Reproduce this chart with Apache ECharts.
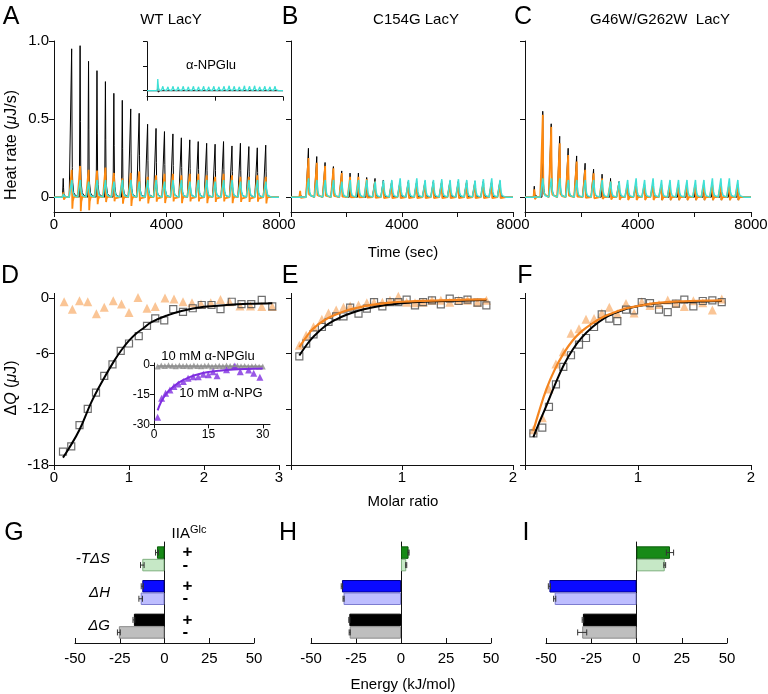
<!DOCTYPE html>
<html><head><meta charset="utf-8">
<script src="https://cdn.jsdelivr.net/npm/echarts@6/dist/echarts.min.js"></script>
<style>html,body{margin:0;padding:0;background:#fff}#c{width:768px;height:694px}</style>
</head><body><div id="c"></div>
<script>
// ---------- DATA ----------
const injTimes = [320,620,920,1220,1520,1820,2120,2420,2720,3020,3320,3620,3920,4220,4520,4820,5120,5420,5720,6020,6320,6620,6920,7220,7520];
const timeTicks = [0,2000,4000,6000,8000];
// Panel A (WT LacY) peak heights, µJ/s
const wtBlack = [0.12,0.95,0.97,0.87,0.81,0.74,0.665,0.62,0.565,0.537,0.467,0.44,0.42,0.405,0.38,0.367,0.356,0.345,0.339,0.356,0.328,0.345,0.324,0.316,0.333];
const wtOrange = [0.03,0.175,0.2,0.175,0.17,0.19,0.155,0.12,0.155,0.165,0.13,0.14,0.15,0.15,0.14,0.15,0.15,0.14,0.13,0.15,0.14,0.13,0.13,0.14,0.13];
const wtOrangeDip = [-0.02,-0.1,-0.12,-0.11,-0.07,-0.06,-0.05,-0.06,-0.08,-0.05,-0.06,-0.05,-0.06,-0.05,-0.06,-0.05,-0.05,-0.06,-0.05,-0.05,-0.06,-0.05,-0.05,-0.05,-0.06];
const wtCyan = [0.02,0.11,0.11,0.1,0.11,0.11,0.1,0.11,0.11,0.1,0.11,0.11,0.1,0.11,0.11,0.1,0.11,0.11,0.1,0.11,0.11,0.1,0.11,0.11,0.1];
// Inset of A (alpha-NPGlu)
const insBlack = [0.02,0.06,0.04,0.04,0.04,0.04,0.04,0.04,0.04,0.04,0.04,0.04,0.04,0.04,0.04,0.04,0.04,0.04,0.04,0.04,0.04,0.04,0.04,0.04,0.04];
const insBlackDip = [0,-0.04,-0.04,-0.04,-0.04,-0.04,-0.04,-0.04,-0.04,-0.04,-0.04,-0.04,-0.04,-0.04,-0.04,-0.04,-0.04,-0.04,-0.04,-0.04,-0.04,-0.04,-0.04,-0.04,-0.04];
const insCyan = [0.02,0.24,0.09,0.08,0.09,0.08,0.09,0.08,0.09,0.08,0.09,0.08,0.09,0.08,0.09,0.1,0.09,0.08,0.1,0.09,0.1,0.08,0.09,0.08,0.09];
// Panel B (C154G LacY)
const c154Black = [0.03,0.313,0.26,0.222,0.196,0.168,0.154,0.154,0.126,0.12,0.11,0.1,0.1,0.1,0.1,0.1,0.1,0.1,0.1,0.1,0.1,0.1,0.1,0.1,0.1];
const c154Orange = [0.04,0.25,0.22,0.2,0.185,0.154,0.13,0.13,0.115,0.1,0.09,0.09,0.09,0.09,0.09,0.09,0.09,0.09,0.09,0.09,0.09,0.09,0.09,0.09,0.09];
const c154OrangeDip = [-0.01,-0.02,-0.02,-0.02,-0.02,-0.02,-0.02,-0.02,-0.02,-0.02,-0.02,-0.02,-0.02,-0.02,-0.02,-0.02,-0.02,-0.02,-0.02,-0.02,-0.02,-0.02,-0.02,-0.02,-0.02];
const c154Cyan = [0.01,0.12,0.11,0.11,0.11,0.1,0.11,0.11,0.11,0.1,0.107,0.11,0.12,0.11,0.12,0.11,0.11,0.115,0.11,0.115,0.11,0.107,0.115,0.12,0.11];
// Panel C (G46W/G262W LacY)
const g46Black = [0.07,0.55,0.47,0.39,0.313,0.264,0.217,0.179,0.147,0.12,0.1,0.08,0.08,0.08,0.08,0.08,0.08,0.08,0.08,0.08,0.08,0.08,0.08,0.08,0.08];
const g46BlackDip = [0,0,0,0,0,0,0,0,0,0,0,0,0,0,0,-0.035,-0.035,-0.035,-0.035,-0.035,-0.035,-0.035,-0.035,-0.035,-0.035];
const g46Orange = [0.05,0.527,0.45,0.345,0.27,0.228,0.175,0.153,0.12,0.1,0.09,0.08,0.08,0.08,0.08,0.08,0.08,0.08,0.08,0.08,0.08,0.08,0.08,0.08,0.08];
const g46OrangeDip = [-0.02,-0.03,-0.03,-0.03,-0.03,-0.03,-0.03,-0.03,-0.03,-0.03,-0.03,-0.03,-0.03,-0.03,-0.03,-0.03,-0.03,-0.03,-0.03,-0.03,-0.03,-0.03,-0.03,-0.03,-0.03];
const g46Cyan = [0.01,0.12,0.12,0.12,0.11,0.11,0.11,0.11,0.11,0.1,0.1,0.11,0.12,0.11,0.12,0.11,0.11,0.11,0.11,0.11,0.11,0.12,0.12,0.12,0.11];
// Injection peak profiles: [dt (s), fraction of peak, fraction of dip]
const blackProfile = [[-20,0,0],[0,0,0],[8,1,0],[20,0.5,0],[30,0.2,1],[45,0.1,0.3],[80,0.03,0],[150,0.01,0],[220,0,0]];
const orangeProfile = [[-20,0,0],[0,0,0],[10,1,0],[22,0.4,0],[32,0.15,1],[50,0.06,0.35],[90,0.02,0],[220,0,0]];
const cyanProfile = [[-20,0,0],[0,0,0],[14,1,0],[32,0.6,0],[55,0.28,0],[90,0.09,0],[140,0.02,0],[220,0,0]];

// Panel D (WT) isotherm
const dSqX = [0.12,0.23,0.34,0.45,0.56,0.67,0.78,0.89,1.00,1.13,1.24,1.35,1.47,1.59,1.72,1.85,1.97,2.10,2.22,2.37,2.50,2.63,2.77,2.91];
const dSq = [-16.56,-16.0,-13.7,-11.96,-10.2,-8.4,-7.15,-5.7,-4.9,-4.1,-3.0,-2.2,-2.4,-1.2,-1.5,-1.1,-0.75,-0.75,-1.2,-0.4,-0.65,-0.65,-0.2,-0.9];
const dTriX = [0.135,0.245,0.34,0.45,0.565,0.67,0.79,0.9,1.0,1.12,1.24,1.35,1.48,1.6,1.72,1.84,1.96,2.09,2.22,2.34,2.48,2.62,2.77,2.91];
const dTri = [-0.4,-1.2,-0.3,-0.4,-1.7,-1.0,-0.3,-0.65,-1.55,0.05,-1.1,-0.9,0.0,-0.1,-0.4,-0.5,-0.65,-0.5,-0.15,-0.4,-0.85,-0.85,-0.9,-0.9];
const dFitX = [0.12,0.2,0.34,0.5,0.67,0.8,0.9,1.0,1.1,1.2,1.3,1.5,1.7,2.0,2.3,2.6,2.91];
const dFit = [-17.2,-16.2,-14.2,-11.2,-8.6,-6.8,-5.6,-4.6,-3.8,-3.2,-2.6,-1.9,-1.4,-0.95,-0.75,-0.62,-0.55];
// Inset of D
const insGrayX = [1,2,3,4,5,6,7,8,9,10,11,12,13,14,15,16,17,18,19,20,21,22,23,24,25,26,27,28,29,30];
const insGray = [-0.8,-0.3,-0.5,-0.2,-0.4,-0.6,-0.3,-0.5,-0.4,-0.7,-0.3,-0.5,-0.6,-0.4,-0.3,-0.8,-0.5,-0.4,-0.6,-0.3,-0.5,-0.7,-0.4,-0.6,-0.5,-0.8,-0.6,-0.7,-0.9,-0.8];
const insGrayFitX = [1,30];
const insGrayFit = [-0.5,-0.7];
const insPurX = [1.0,2.1,3.2,4.4,5.5,6.7,8.1,9.4,10.8,12.2,13.6,15.0,16.3,17.4,20.0,22.3,23.8,26.1,27.5,29.2];
const insPur = [-26.4,-16.8,-14.3,-12.6,-10.9,-9.6,-8.4,-6.7,-5.9,-5.9,-4.7,-5.0,-3.4,-5.5,-2.4,-0.5,-3.4,-2.5,-4.2,-6.2];
const insPurFitX = [1,2,3,4,6,8,10,12,15,18,22,26,30];
const insPurFit = [-23,-18.5,-15.5,-13.2,-10,-7.7,-6,-4.8,-3.6,-2.9,-2.3,-2.0,-1.8];
// Panel E (C154G)
const eX = [0.075,0.137,0.203,0.278,0.338,0.407,0.473,0.533,0.608,0.683,0.748,0.823,0.892,0.967,1.042,1.117,1.19,1.27,1.35,1.43,1.51,1.59,1.68,1.76];
const eSq = [-6.28,-4.92,-3.91,-3.12,-2.58,-1.97,-1.97,-1.04,-1.68,-1.15,-0.43,-0.9,-0.43,-0.43,-0.17,-0.79,-0.43,-0.25,-0.68,-0.07,-0.32,-0.18,-0.5,-0.79];
const eTri = [-5.1,-4.0,-3.1,-2.3,-1.6,-1.3,-1.0,-0.85,-0.75,-0.5,-0.45,-0.45,-0.25,0.2,-0.45,-0.5,-0.45,-0.25,-0.25,-0.45,-0.25,-0.25,-0.45,-0.25];
const eFitX = [0.075,0.15,0.2,0.3,0.4,0.5,0.6,0.7,0.85,1.0,1.2,1.5,1.76];
const eFitBlack = [-6.2,-4.9,-4.2,-3.1,-2.35,-1.8,-1.4,-1.1,-0.75,-0.55,-0.4,-0.28,-0.22];
const eFitOrange = [-5.3,-4.0,-3.3,-2.4,-1.8,-1.35,-1.05,-0.8,-0.55,-0.4,-0.3,-0.2,-0.15];
// Panel F (G46W/G262W)
const fX = [0.074,0.153,0.212,0.274,0.339,0.407,0.478,0.54,0.611,0.679,0.746,0.817,0.894,0.965,1.033,1.106,1.186,1.263,1.336,1.41,1.49,1.573,1.658,1.741];
const fSq = [-14.6,-13.97,-11.74,-9.3,-7.43,-6.17,-5.03,-4.31,-3.12,-1.76,-2.22,-2.48,-1.25,-1.33,-0.43,-0.54,-1.25,-1.51,-0.61,-0.17,-0.9,-0.32,-0.25,-0.43];
const fTri = [-14.2,-12.9,-9.8,-7.1,-5.8,-3.8,-3.3,-2.3,-2.2,-1.6,-1.0,-1.7,-0.6,-1.6,-0.4,-0.8,-0.7,-0.2,-0.6,-0.9,-0.3,-0.5,-1.3,-0.1];
const fFitX = [0.074,0.12,0.19,0.26,0.34,0.42,0.5,0.6,0.7,0.8,0.9,1.05,1.2,1.4,1.6,1.74];
const fFitBlack = [-15.0,-13.6,-11.6,-9.5,-7.3,-5.6,-4.3,-3.1,-2.2,-1.6,-1.15,-0.75,-0.55,-0.42,-0.36,-0.33];
const fFitOrange = [-14.3,-12.4,-9.8,-7.8,-6.0,-4.6,-3.6,-2.7,-2.0,-1.5,-1.1,-0.75,-0.5,-0.35,-0.28,-0.25];
// Panels G, H, I: energies (kJ/mol), categories bottom -> top
const energyCats = ['ΔG','ΔH','-TΔS'];
const gPlus = [-17.1,-12.4,-4.2];  const gMinus = [-25.5,-13.3,-12.4];
const gPlusErr = [0.5,0.6,0.8];    const gMinusErr = [0.8,1.0,1.0];
const hPlus = [-28.7,-32.8,4.2];   const hMinus = [-28.5,-31.9,2.9];
const hPlusErr = [0.3,0.4,0.3];    const hMinusErr = [0.3,0.3,0.3];
const iPlus = [-29.6,-48.1,18.5];  const iMinus = [-30.0,-45.2,15.6];
const iPlusErr = [0.4,0.6,2.0];    const iMinusErr = [2.5,0.6,0.5];
const energyTicks = [-50,-25,0,25,50];

// ---------- BUILD ----------
const FONT = '"Liberation Sans", Arial, Helvetica, sans-serif';
const ORANGE = '#ff8a10', CYAN = '#3ee0d6', LORANGE = '#f9b77c', FITOR = '#f4841f', PURPLE = '#7f2ee0';
const plusColors = ['#000000','#0a0aff','#178a17'];
const plusBorders = ['#000000','#00008b','#0b5e0b'];
const minusColors = ['#bebebe','#bdbdff','#c6e8c6'];
const minusBorders = ['#8a8a8a','#7c7cd0','#7fb07f'];

function trace(amps, dips, profile) {
  const pts = [[0, 0]];
  injTimes.forEach((t, i) => {
    profile.forEach(p => pts.push([t + p[0], amps[i] * p[1] + (dips ? dips[i] * p[2] : 0)]));
  });
  pts.push([8000, 0]);
  return pts;
}
const zip = (xs, ys) => xs.map((x, i) => [x, ys[i]]);

const LS = {color:'#111', width:1};
const plain = v => String(v);
function vAxis(o) {
  return {
    type:'value', gridIndex:o.g, min:o.min, max:o.max,
    axisLine:{show:true, onZero:false, lineStyle:LS},
    axisTick:{show:true, length:o.tl||5, inside:!!o.inside, customValues:o.ticks, lineStyle:LS},
    axisLabel:{show:!!o.labels, customValues:o.labels, formatter:o.fmt || plain, fontSize:o.fs||15, color:'#000', margin:o.margin||5, fontFamily:FONT},
    splitLine:{show:false}
  };
}
const fmt10 = v => (v === 1 ? '1.0' : String(v));

const G = (l, t, w, h) => ({left:l, top:t, width:w, height:h, outerBoundsMode:'none', containLabel:false});
const grids = [
  G(54, 41, 225, 171),        // 0 A
  G(147, 41.7, 136, 55),      // 1 A inset
  G(291, 41, 222, 171),       // 2 B
  G(525, 41, 226, 171),       // 3 C
  G(54, 293.4, 225, 171.6),   // 4 D
  G(154, 363, 116, 61.3),     // 5 D inset
  G(291, 293.4, 222, 171.6),  // 6 E
  G(525, 293.4, 226, 171.6),  // 7 F
  G(75, 542, 179, 101),       // 8 G
  G(311, 542, 180, 101),      // 9 H
  G(546, 542, 181, 101)       // 10 I
];

const xAxes = [
  vAxis({g:0, min:0, max:8000, ticks:timeTicks, labels:[0,4000,8000]}),
  vAxis({g:1, min:0, max:8000, ticks:[0,4000,8000], tl:4}),
  vAxis({g:2, min:0, max:8000, ticks:timeTicks, labels:[4000,8000]}),
  vAxis({g:3, min:0, max:8000, ticks:timeTicks, labels:[4000,8000]}),
  vAxis({g:4, min:0, max:3, ticks:[0,1,2,3], labels:[0,1,2,3]}),
  vAxis({g:5, min:0, max:32, ticks:[0,15,30], labels:[0,15,30], fs:12, margin:4, tl:4}),
  vAxis({g:6, min:0, max:2, ticks:[0,1,2], labels:[1,2]}),
  vAxis({g:7, min:0, max:2, ticks:[0,1,2], labels:[1,2]}),
  vAxis({g:8, min:-50, max:50, ticks:energyTicks, labels:energyTicks, inside:true, margin:8}),
  vAxis({g:9, min:-50, max:50, ticks:energyTicks, labels:energyTicks, inside:true, margin:8}),
  vAxis({g:10, min:-50, max:50, ticks:energyTicks, labels:energyTicks, inside:true, margin:8})
];
function catAxis(g, withLabels) {
  return {
    type:'category', gridIndex:g, data:energyCats,
    axisLine:{show:true, onZero:true, lineStyle:LS},
    axisTick:{show:false},
    axisLabel:{show:withLabels, margin:-35, fontSize:15, color:'#000', fontFamily:FONT,
      formatter: v => '{i|' + v + '}',
      rich:{i:{fontStyle:'italic', fontSize:15, fontFamily:FONT, color:'#000'}}},
    splitLine:{show:false}
  };
}
const yAxes = [
  vAxis({g:0, min:-0.095, max:1.0, ticks:[0,0.5,1], labels:[0,0.5,1], fmt:fmt10}),
  vAxis({g:1, min:-0.122, max:1.0, ticks:[0,0.5,1], tl:4}),
  vAxis({g:2, min:-0.095, max:1.0, ticks:[0,0.5,1]}),
  vAxis({g:3, min:-0.095, max:1.0, ticks:[0,0.5,1]}),
  vAxis({g:4, min:-18, max:0.5, ticks:[-18,-12,-6,0], labels:[-18,-12,-6,0]}),
  vAxis({g:5, min:-30, max:1, ticks:[-30,-15,0], labels:[-30,-15,0], fs:12, margin:4, tl:4}),
  vAxis({g:6, min:-18, max:0.5, ticks:[-18,-12,-6,0]}),
  vAxis({g:7, min:-18, max:0.5, ticks:[-18,-12,-6,0]}),
  catAxis(8, true), catAxis(9, false), catAxis(10, false)
];

function line(ax, data, color, width, extra) {
  return Object.assign({type:'line', xAxisIndex:ax, yAxisIndex:ax, data:data, showSymbol:false, symbol:'none',
    lineStyle:{color:color, width:width}, itemStyle:{color:color}, silent:true}, extra||{});
}
function scatter(ax, data, sym, size, style, z) {
  return {type:'scatter', xAxisIndex:ax, yAxisIndex:ax, data:data, symbol:sym, symbolSize:size, itemStyle:style, silent:true, z:z||2};
}
const SQ = {color:'rgba(255,255,255,0)', borderColor:'#4a4a4a', borderWidth:1.2};

const series = [
  // A
  line(0, trace(wtBlack, null, blackProfile), '#000', 1),
  line(0, trace(wtOrange, wtOrangeDip, orangeProfile), ORANGE, 1.8, {clip:false}),
  line(0, trace(wtCyan, null, cyanProfile), CYAN, 1.5),
  // A inset
  line(1, trace(insBlack, insBlackDip, blackProfile), '#000', 1),
  line(1, trace(insCyan, null, cyanProfile), CYAN, 1.3),
  // B
  line(2, trace(c154Black, null, blackProfile), '#000', 1),
  line(2, trace(c154Orange, c154OrangeDip, orangeProfile), ORANGE, 1.8),
  line(2, trace(c154Cyan, null, cyanProfile), CYAN, 1.5),
  // C
  line(3, trace(g46Black, g46BlackDip, blackProfile), '#000', 1),
  line(3, trace(g46Orange, g46OrangeDip, orangeProfile), ORANGE, 1.8),
  line(3, trace(g46Cyan, null, cyanProfile), CYAN, 1.5),
  // D
  scatter(4, zip(dTriX, dTri), 'triangle', 9, {color:LORANGE}),
  scatter(4, zip(dSqX, dSq), 'rect', 7, SQ, 3),
  line(4, zip(dFitX, dFit), '#000', 2, {smooth:0.4, z:4}),
  // D inset
  line(5, zip(insGrayFitX, insGrayFit), '#8c8c8c', 1.5),
  scatter(5, zip(insGrayX, insGray), 'triangle', 6, {color:'#8c8c8c'}),
  scatter(5, zip(insPurX, insPur), 'triangle', 7, {color:PURPLE}),
  line(5, zip(insPurFitX, insPurFit), PURPLE, 2, {smooth:0.4}),
  // E
  scatter(6, zip(eX, eTri), 'triangle', 9, {color:LORANGE}),
  scatter(6, zip(eX, eSq), 'rect', 7, SQ, 3),
  line(6, zip(eFitX, eFitBlack), '#000', 2, {smooth:0.4, z:4}),
  line(6, zip(eFitX, eFitOrange), FITOR, 2.2, {smooth:0.4, z:5}),
  // F
  scatter(7, zip(fX, fTri), 'triangle', 9, {color:LORANGE}),
  scatter(7, zip(fX, fSq), 'rect', 7, SQ, 3),
  line(7, zip(fFitX, fFitBlack), '#000', 2, {smooth:0.4, z:4}),
  line(7, zip(fFitX, fFitOrange), FITOR, 2.2, {smooth:0.4, z:5})
];

function barPair(ax, plus, minus, plusErr, minusErr, signs) {
  const mk = (vals, cols, bords) => vals.map((v, i) => ({value:v, itemStyle:{color:cols[i], borderColor:bords[i], borderWidth:1}}));
  const lbl = s => signs ? {show:true, position:'right', distance:18, formatter:s, fontSize:17, fontWeight:'bold', color:'#000', fontFamily:FONT} : {show:false};
  series.push({type:'bar', xAxisIndex:ax, yAxisIndex:ax, data:mk(plus, plusColors, plusBorders), barWidth:12.5, barGap:'0%', label:lbl('+'), silent:true});
  series.push({type:'bar', xAxisIndex:ax, yAxisIndex:ax, data:mk(minus, minusColors, minusBorders), barWidth:12.5, barGap:'0%', label:lbl('-'), silent:true});
  const errData = [];
  plus.forEach((v, i) => errData.push([v, i, plusErr[i], -1]));
  minus.forEach((v, i) => errData.push([v, i, minusErr[i], 1]));
  series.push({type:'custom', xAxisIndex:ax, yAxisIndex:ax, data:errData, silent:true, z:5,
    renderItem: (params, api) => {
      const v = api.value(0), c = api.value(1), e = api.value(2), slot = api.value(3);
      const p = api.coord([v, c]);
      const y = p[1] + slot * 6.25;
      const a = api.coord([v - e, c])[0], b = api.coord([v + e, c])[0];
      const st = {stroke:'#333', lineWidth:1};
      return {type:'group', children:[
        {type:'line', shape:{x1:a, y1:y, x2:b, y2:y}, style:st},
        {type:'line', shape:{x1:a, y1:y-3, x2:a, y2:y+3}, style:st},
        {type:'line', shape:{x1:b, y1:y-3, x2:b, y2:y+3}, style:st}
      ]};
    }});
}
barPair(8, gPlus, gMinus, gPlusErr, gMinusErr, true);
barPair(9, hPlus, hMinus, hPlusErr, hMinusErr, false);
barPair(10, iPlus, iMinus, iPlusErr, iMinusErr, false);

function txt(x, y, text, size, extra) {
  return Object.assign({type:'text', x:x, y:y, silent:true, z:100,
    style:Object.assign({text:text, fontSize:size, fontFamily:FONT, fill:'#000', align:'center', verticalAlign:'middle'}, (extra && extra.style) || {})},
    extra && extra.rotation !== undefined ? {rotation:extra.rotation} : {});
}
const letters = [['A',11,17],['B',290,17],['C',523,17],['D',10,276],['E',290,276],['F',525,276],['G',14,533],['H',288,533],['I',526,533]];
const graphic = letters.map(l => txt(l[1], l[2], l[0], 25));
graphic.push(txt(171, 20, 'WT LacY', 15));
graphic.push(txt(416, 20, 'C154G LacY', 15));
graphic.push(txt(660, 20, 'G46W/G262W  LacY', 15));
graphic.push(txt(211, 65, 'α-NPGlu', 13));
graphic.push(txt(208, 356, '10 mM α-NPGlu', 13));
graphic.push(txt(221, 393, '10 mM α-NPG', 13));
graphic.push(txt(403, 253, 'Time (sec)', 15));
graphic.push(txt(403, 502, 'Molar ratio', 15));
graphic.push(txt(403, 685, 'Energy (kJ/mol)', 15));
graphic.push(txt(12, 145, 'Heat rate ({i|μ}J/s)', 16, {rotation:Math.PI/2, style:{rich:{i:{fontStyle:'italic', fontSize:16, fontFamily:FONT}}}}));
graphic.push(txt(12, 388, 'Δ{i|Q} ({i|μ}J)', 16, {rotation:Math.PI/2, style:{rich:{i:{fontStyle:'italic', fontSize:16, fontFamily:FONT}}}}));
graphic.push(txt(189, 534, 'IIA{s|Glc}', 15, {style:{rich:{s:{fontSize:11, fontFamily:FONT, verticalAlign:'top', padding:[0,0,8,0]}}}}));

const chart = echarts.init(document.getElementById('c'), null, {renderer:'canvas'});
chart.setOption({
  animation:false, backgroundColor:'#fff', textStyle:{fontFamily:FONT},
  grid:grids, xAxis:xAxes, yAxis:yAxes, series:series, graphic:graphic
});
</script></body></html>
